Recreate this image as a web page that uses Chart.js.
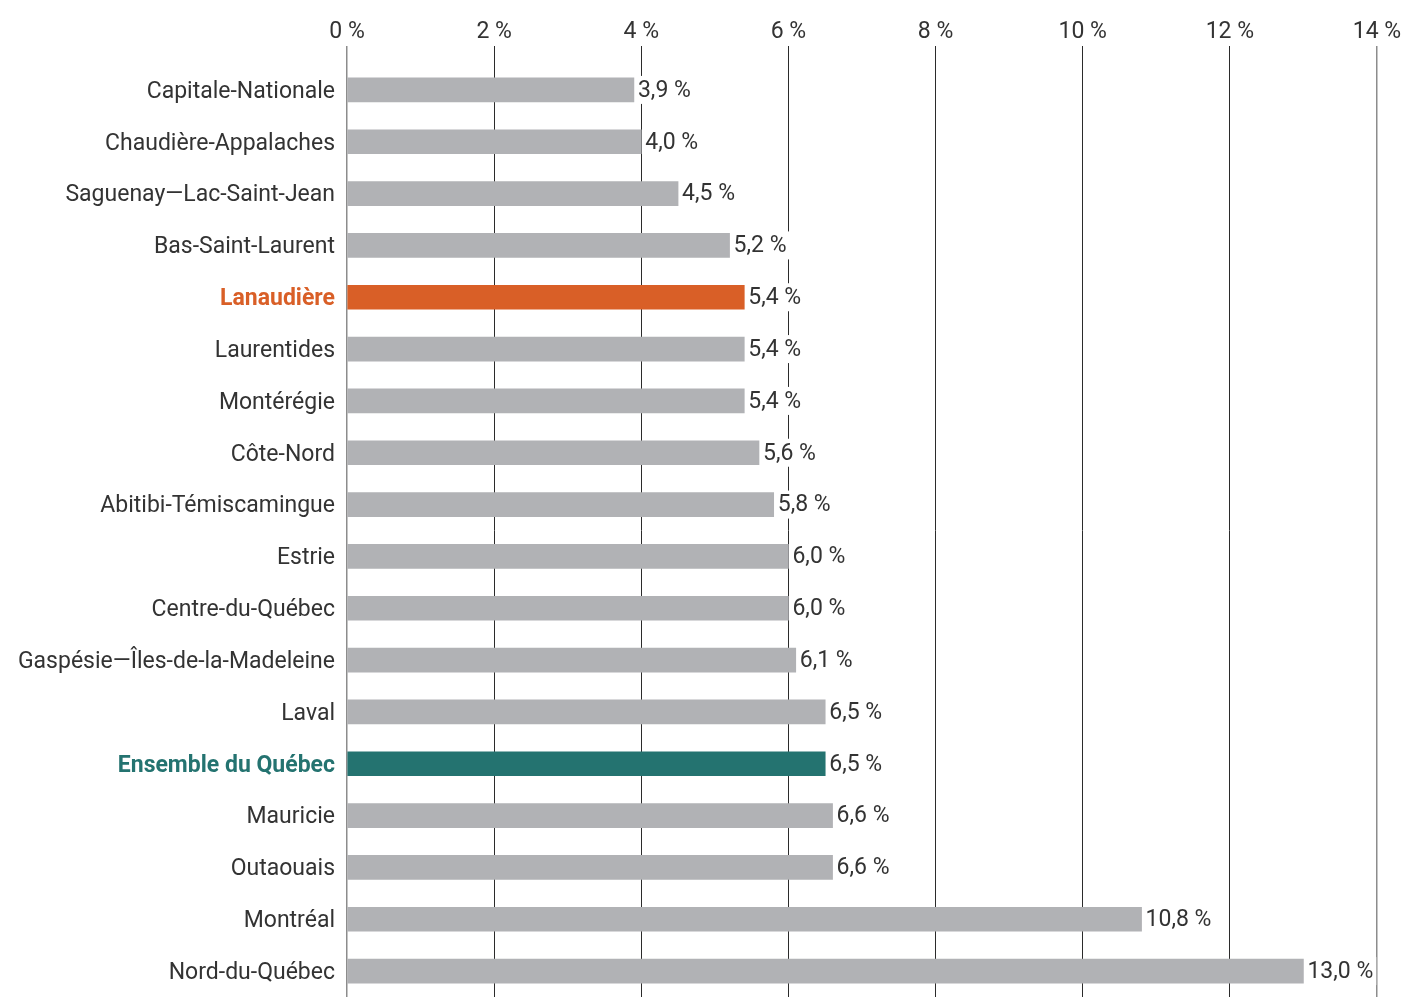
<!DOCTYPE html>
<html lang="fr">
<head>
<meta charset="utf-8">
<title>Taux par région</title>
<script src="https://cdn.jsdelivr.net/npm/chart.js@4"></script>
<style>
    html, body { margin: 0; padding: 0; background: #fff; }
    #chart { display: block; }
</style>
</head>
<body>
<canvas id="chart" width="1405" height="998"></canvas>
<script>
const regions = [
    'Capitale-Nationale', 'Chaudière-Appalaches', 'Saguenay—Lac-Saint-Jean', 'Bas-Saint-Laurent',
    'Lanaudière', 'Laurentides', 'Montérégie', 'Côte-Nord', 'Abitibi-Témiscamingue', 'Estrie',
    'Centre-du-Québec', 'Gaspésie—Îles-de-la-Madeleine', 'Laval', 'Ensemble du Québec',
    'Mauricie', 'Outaouais', 'Montréal', 'Nord-du-Québec'
];
const rates = [3.9, 4.0, 4.5, 5.2, 5.4, 5.4, 5.4, 5.6, 5.8, 6.0, 6.0, 6.1, 6.5, 6.5, 6.6, 6.6, 10.8, 13.0];
const xTicks = [0, 2, 4, 6, 8, 10, 12, 14];

const COLORS = {
    bar: '#B1B2B5',
    focus: '#D95F27',
    total: '#247370',
    text: '#333333',
    grid: '#2b2b2b',
    edge: '#8c8c8c'
};
const FONT = 'Roboto, "DejaVu Sans", sans-serif';
const SIZE = 23;
const FOCUS = 'Lanaudière';
const TOTAL = 'Ensemble du Québec';

function barColor(name) {
    if (name === FOCUS) return COLORS.focus;
    if (name === TOTAL) return COLORS.total;
    return COLORS.bar;
}

function fmt(v) {
    return v.toFixed(1).replace('.', ',') + ' %';
}

const valueLabels = {
    id: 'valueLabels',
    afterDatasetsDraw(chart) {
        const { ctx } = chart;
        const meta = chart.getDatasetMeta(0);
        ctx.save();
        ctx.font = SIZE + 'px ' + FONT;
        ctx.textBaseline = 'middle';
        ctx.textAlign = 'left';
        meta.data.forEach((bar, i) => {
            const txt = fmt(rates[i]);
            const w = ctx.measureText(txt).width;
            ctx.fillStyle = '#fff';
            ctx.fillRect(bar.x + 1, bar.y - 14, w + 6, 28);
            ctx.fillStyle = COLORS.text;
            ctx.fillText(txt, bar.x + 4, bar.y + 1);
        });
        ctx.restore();
    }
};

new Chart(document.getElementById('chart'), {
    type: 'bar',
    data: {
        labels: regions,
        datasets: [{
            data: rates,
            backgroundColor: regions.map(barColor),
            barThickness: 24,
            borderWidth: 0
        }]
    },
    options: {
        responsive: false,
        animation: false,
        indexAxis: 'y',
        layout: { padding: { top: 1, right: 28, bottom: 1, left: 0 } },
        plugins: { legend: { display: false }, tooltip: { enabled: false } },
        scales: {
            x: {
                position: 'top',
                min: 0,
                max: 14,
                afterBuildTicks: s => { s.ticks = xTicks.map(v => ({ value: v })); },
                afterFit: s => { s.height = 63; },
                border: { display: false },
                grid: {
                    drawTicks: true,
                    tickLength: 18,
                    color: ctx => (ctx.index === 0 || ctx.index === xTicks.length - 1) ? COLORS.edge : COLORS.grid,
                    lineWidth: ctx => (ctx.index === 0 || ctx.index === xTicks.length - 1) ? 1.5 : 1
                },
                ticks: {
                    padding: 0,
                    color: COLORS.text,
                    font: { family: FONT, size: SIZE },
                    callback: v => v + ' %'
                }
            },
            y: {
                afterFit: s => {
                    s.width = 347;
                    s.paddingTop = 0;
                    s.paddingBottom = 0;
                },
                border: { display: false },
                grid: { display: false, drawTicks: false },
                ticks: {
                    padding: 12,
                    labelOffset: 2,
                    autoSkip: false,
                    color: ctx => {
                        const name = regions[ctx.index];
                        return name === FOCUS || name === TOTAL ? barColor(name) : COLORS.text;
                    },
                    font: ctx => {
                        const name = regions[ctx.index];
                        const bold = name === FOCUS || name === TOTAL;
                        return { family: FONT, size: SIZE, weight: bold ? 'bold' : 'normal' };
                    }
                }
            }
        }
    },
    plugins: [valueLabels]
});
</script>
</body>
</html>
